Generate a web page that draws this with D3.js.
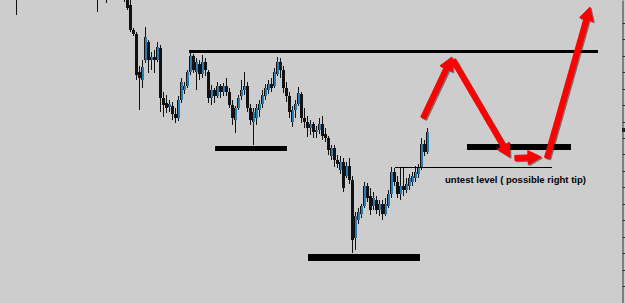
<!DOCTYPE html>
<html><head><meta charset="utf-8">
<script src="https://cdn.jsdelivr.net/npm/d3@7"></script>
<style>html,body{margin:0;padding:0;background:#cdcdcd;overflow:hidden}svg{display:block}</style>
</head><body>
<svg id="c" width="625" height="303"></svg>
<script>
// ---- data ----
const barIndex = [-36,-9,-6,
 0,1,2,3,4,5,6,7,8,9,10,11,12,13,14,15,16,17,18,19,20,21,22,23,24,25,26,27,28,29,30,31,32,33,34,35,36,37,38,39,40,
 41,42,43,44,45,46,47,48,49,50,51,52,53,54,55,56,57,58,59,60,61,62,63,64,65,66,67,68,69,70,71,72,73,74,75,76,77,78,79,80,
 81,82,83,84,85,86,87,88,89,90,91,92,93,94,95,96,97,98,99,100,101];
const open = [1.3620,1.3620,1.3625,
 1.3610,1.3603,1.3595,1.3570,1.3566,1.3528,1.3520,1.3540,1.3558,1.3540,1.3543,1.3540,1.3552,1.3502,1.3497,1.3493,1.3494,1.3486,1.3482,1.3500,1.3510,1.3514,1.3528,1.3544,1.3528,1.3536,1.3526,1.3538,1.3528,1.3502,1.3510,1.3504,1.3514,1.3508,1.3514,1.3508,1.3495,1.3480,1.3492,1.3504,1.3510,
 1.3514,1.3492,1.3478,1.3482,1.3490,1.3496,1.3504,1.3510,1.3516,1.3514,1.3526,1.3538,1.3530,1.3512,1.3504,1.3478,1.3490,1.3496,1.3506,1.3482,1.3478,1.3472,1.3476,1.3468,1.3470,1.3476,1.3466,1.3462,1.3444,1.3452,1.3440,1.3430,1.3438,1.3424,1.3434,1.3420,1.3362,1.3380,1.3386,1.3394,
 1.3414,1.3404,1.3394,1.3400,1.3390,1.3396,1.3386,1.3394,1.3406,1.3428,1.3418,1.3406,1.3414,1.3410,1.3414,1.3418,1.3422,1.3426,1.3432,1.3456,1.3448];
const high = [1.3640,1.3630,1.3640,
 1.3620,1.3608,1.3600,1.3572,1.3568,1.3534,1.3540,1.3573,1.3560,1.3548,1.3550,1.3558,1.3555,1.3508,1.3505,1.3500,1.3498,1.3492,1.3504,1.3522,1.3518,1.3530,1.3548,1.3546,1.3542,1.3540,1.3545,1.3542,1.3530,1.3515,1.3512,1.3518,1.3516,1.3517,1.3522,1.3512,1.3500,1.3494,1.3505,1.3520,1.3528,
 1.3518,1.3496,1.3492,1.3496,1.3500,1.3510,1.3516,1.3520,1.3522,1.3532,1.3543,1.3542,1.3534,1.3518,1.3508,1.3494,1.3500,1.3513,1.3508,1.3492,1.3484,1.3480,1.3478,1.3474,1.3482,1.3484,1.3472,1.3464,1.3455,1.3455,1.3445,1.3444,1.3442,1.3438,1.3442,1.3424,1.3388,1.3392,1.3396,1.3418,
 1.3417,1.3412,1.3408,1.3404,1.3400,1.3400,1.3402,1.3410,1.3433,1.3432,1.3424,1.3433,1.3432,1.3422,1.3426,1.3428,1.3434,1.3436,1.3462,1.3460,1.3472];
const low = [1.3585,1.3588,1.3597,
 1.3598,1.3590,1.3568,1.3564,1.3520,1.3490,1.3512,1.3537,1.3527,1.3530,1.3527,1.3538,1.3488,1.3483,1.3487,1.3488,1.3480,1.3477,1.3479,1.3497,1.3506,1.3512,1.3525,1.3527,1.3510,1.3520,1.3522,1.3524,1.3497,1.3495,1.3497,1.3502,1.3502,1.3504,1.3504,1.3492,1.3475,1.3467,1.3490,1.3500,1.3505,
 1.3488,1.3475,1.3455,1.3475,1.3483,1.3492,1.3500,1.3506,1.3508,1.3512,1.3524,1.3522,1.3507,1.3498,1.3482,1.3473,1.3482,1.3494,1.3477,1.3472,1.3463,1.3465,1.3462,1.3462,1.3466,1.3460,1.3458,1.3445,1.3440,1.3433,1.3432,1.3426,1.3408,1.3422,1.3416,1.3347,1.3350,1.3376,1.3382,1.3392,
 1.3398,1.3385,1.3390,1.3386,1.3384,1.3380,1.3384,1.3392,1.3402,1.3414,1.3402,1.3400,1.3404,1.3407,1.3410,1.3414,1.3418,1.3422,1.3430,1.3444,1.3446];
const close = [1.3630,1.3610,1.3615,
 1.3605,1.3592,1.3570,1.3566,1.3525,1.3522,1.3533,1.3563,1.3540,1.3543,1.3540,1.3553,1.3502,1.3495,1.3492,1.3496,1.3486,1.3482,1.3500,1.3518,1.3514,1.3528,1.3544,1.3530,1.3538,1.3526,1.3538,1.3530,1.3502,1.3510,1.3504,1.3514,1.3508,1.3514,1.3508,1.3495,1.3482,1.3492,1.3502,1.3510,1.3514,
 1.3492,1.3480,1.3488,1.3492,1.3496,1.3505,1.3512,1.3516,1.3512,1.3528,1.3538,1.3530,1.3512,1.3504,1.3488,1.3490,1.3496,1.3507,1.3482,1.3478,1.3472,1.3476,1.3468,1.3470,1.3476,1.3464,1.3462,1.3450,1.3452,1.3440,1.3436,1.3438,1.3412,1.3434,1.3420,1.3360,1.3384,1.3388,1.3394,1.3414,
 1.3402,1.3390,1.3402,1.3390,1.3396,1.3386,1.3396,1.3406,1.3428,1.3418,1.3406,1.3414,1.3410,1.3416,1.3422,1.3424,1.3428,1.3432,1.3456,1.3448,1.3468];

const axisTicks = [1.3577,1.3561,1.3544,1.3528,1.3511,1.3495,1.3478,1.3462,1.3446,1.3429,1.3413,1.3396,1.3380,1.3363,1.3347,1.3330,1.3314];
const lastPrice = 1.3470;

// annotations: level lines [from bar, to bar, price, thickness]
const levelFrom  = [21.7, 30.3, 61.3, 114.3, 90.3];
const levelTo    = [158, 54.3, 98.7, 149, 142.7];
const levelPrice = [1.3549, 1.3452, 1.3343, 1.3453, 1.3433];
const levelWidth = [3, 5, 7, 6, 1];

// red arrows: start bar/price -> end bar/price
const arrowX1 = [99.7, 109.7, 130.3, 141.0];
const arrowP1 = [1.3482, 1.3540, 1.3442, 1.3442];
const arrowX2 = [109.3, 128.6, 139.0, 155.3];
const arrowP2 = [1.3543, 1.3443, 1.3443, 1.3593];

const noteText = "untest level ( possible right tip)";
const noteBar = 107;
const notePrice = 1.3417;

// ---- drawing ----
const W = 625, H = 303;
const svg = d3.select("#c");
const x = d3.scaleLinear().domain([-41, 167]).range([1, 625]);
const y = d3.scaleLinear().domain([1.3600, 1.3297]).range([0, 303]);

svg.append("rect").attr("width", W).attr("height", H).attr("fill", "#cdcdcd");

const candles = barIndex.map((b, k) => ({b, o: open[k], h: high[k], l: low[k], c: close[k]}));
const g = svg.append("g");
g.selectAll("line.w").data(candles).join("line")
  .attr("class", "w")
  .attr("x1", d => Math.round(x(d.b)) + 0.5).attr("x2", d => Math.round(x(d.b)) + 0.5)
  .attr("y1", d => y(d.h)).attr("y2", d => y(d.l))
  .attr("stroke", "#111").attr("stroke-width", 1);
g.selectAll("rect.b").data(candles).join("rect")
  .attr("class", "b")
  .attr("x", d => Math.round(x(d.b)) - 1)
  .attr("width", 3)
  .attr("y", d => y(Math.max(d.o, d.c)))
  .attr("height", d => Math.max(1, Math.abs(y(d.o) - y(d.c))))
  .attr("fill", d => d.c > d.o ? "#2a7db4" : "#111");
g.selectAll("line.e").data(candles.filter(d => d.c > d.o)).join("line")
  .attr("class", "e")
  .attr("x1", d => Math.round(x(d.b)) - 0.5).attr("x2", d => Math.round(x(d.b)) - 0.5)
  .attr("y1", d => y(d.c)).attr("y2", d => y(d.o))
  .attr("stroke", "#111").attr("stroke-width", 1);

// levels
const levels = levelFrom.map((f, k) => ({f, t: levelTo[k], p: levelPrice[k], w: levelWidth[k]}));
svg.append("g").attr("shape-rendering", "crispEdges").selectAll("line").data(levels).join("line")
  .attr("x1", d => x(d.f)).attr("x2", d => x(d.t))
  .attr("y1", d => y(d.p) + (d.w % 2 ? 0.5 : 0)).attr("y2", d => y(d.p) + (d.w % 2 ? 0.5 : 0))
  .attr("stroke", "#000").attr("stroke-width", d => d.w);

// note
svg.append("text")
  .attr("x", x(noteBar)).attr("y", y(notePrice))
  .attr("font-family", "'Liberation Sans', Arial, sans-serif")
  .attr("font-weight", "bold").attr("font-size", 9.5)
  .attr("textLength", 141).attr("lengthAdjust", "spacingAndGlyphs")
  .attr("fill", "#000").text(noteText);

// arrows
function arrowPath(x1, y1, x2, y2) {
  const dx = x2 - x1, dy = y2 - y1, len = Math.hypot(dx, dy);
  const ux = dx / len, uy = dy / len, nx = -uy, ny = ux;
  const L = 13, Wd = 7, s = 2.6;
  const bx = x2 - ux * L, by = y2 - uy * L;
  const pts = [
    [x1 + nx * s, y1 + ny * s], [bx + nx * s, by + ny * s], [bx + nx * Wd, by + ny * Wd],
    [x2, y2], [bx - nx * Wd, by - ny * Wd], [bx - nx * s, by - ny * s], [x1 - nx * s, y1 - ny * s]
  ];
  return "M" + pts.map(p => p.join(",")).join("L") + "Z";
}
const arrows = arrowX1.map((a, k) => ({x1: x(a), y1: y(arrowP1[k]), x2: x(arrowX2[k]), y2: y(arrowP2[k])}));
const ag = svg.append("g");
ag.selectAll("path.s").data(arrows).join("path").attr("class", "s")
  .attr("d", d => arrowPath(d.x1, d.y1, d.x2, d.y2))
  .attr("transform", "translate(1.2,1.2)")
  .attr("fill", "#3a1a1a").attr("opacity", 0.55)
  .attr("stroke", "#3a1a1a").attr("stroke-width", 1).attr("stroke-linejoin", "round");
ag.selectAll("path.a").data(arrows).join("path").attr("class", "a")
  .attr("d", d => arrowPath(d.x1, d.y1, d.x2, d.y2))
  .attr("fill", "#ff0000").attr("stroke", "#ff0000").attr("stroke-width", 1).attr("stroke-linejoin", "round");

// right price axis
const axis = d3.axisRight(y).tickValues(axisTicks).tickSize(3).tickSizeOuter(0).tickFormat("");
const ax = svg.append("g").attr("transform", "translate(622.5,0)").call(axis);
ax.select(".domain").attr("stroke", "#333");
ax.selectAll(".tick line").attr("stroke", "#333");
svg.append("rect").attr("x", 622).attr("y", y(lastPrice) - 2).attr("width", 3).attr("height", 4).attr("fill", "#222");
</script>
</body></html>
